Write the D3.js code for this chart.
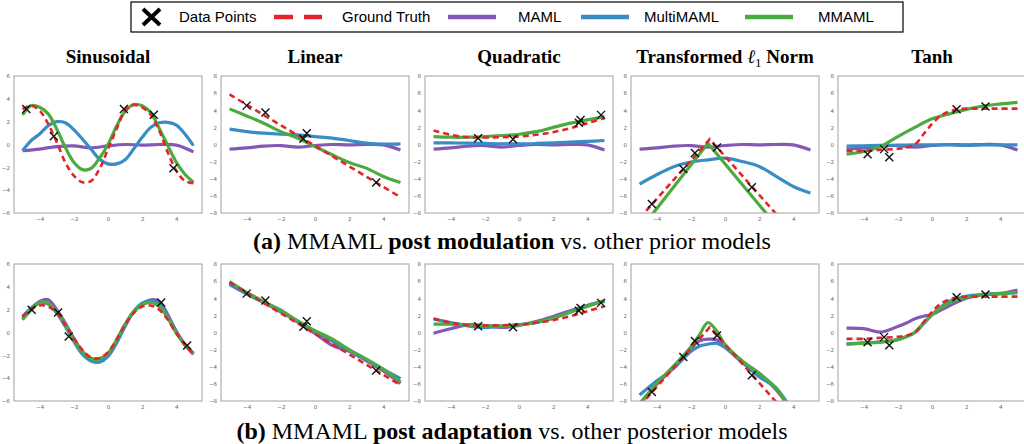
<!DOCTYPE html>
<html>
<head>
<meta charset="utf-8">
<script src="https://cdn.jsdelivr.net/npm/d3@7"></script>
<style>
  body { margin: 0; background: #fff; }
  svg { display: block; }
</style>
</head>
<body>
<svg id="chart" width="1024" height="444"></svg>
<script>
// sample grids
var xHalf = [-5,-4.5,-4,-3.5,-3,-2.5,-2,-1.5,-1,-0.5,0,0.5,1,1.5,2,2.5,3,3.5,4,4.5,5];
var xInt = [-5,-4,-3,-2,-1,0,1,2,3,4,5];

var titles = ["Sinusoidal", "Linear", "Quadratic", "Transformed", "Tanh"];
var legendLabels = ["Data Points", "Ground Truth", "MAML", "MultiMAML", "MMAML"];

// data points (same tasks in both rows, except sinusoid)
var sinPtsAx = [-4.78,-3.17,0.93,2.68,3.83], sinPtsAy = [3.11,0.72,3.11,2.61,-2.09];
var sinPtsBx = [-4.47,-2.92,-2.3,3.11,4.63], sinPtsBy = [1.99,1.75,-0.35,2.63,-1.14];
var linPtsx = [-4.0,-2.9,-0.68,-0.48,3.58], linPtsy = [4.54,3.73,0.66,1.32,-4.43];
var quadPtsx = [-2.39,-0.35,3.5,3.6,4.8], quadPtsy = [0.74,0.62,2.55,2.85,3.46];
var l1Ptsx = [-4.28,-2.44,-1.76,-0.47,1.57], l1Ptsy = [-6.95,-2.87,-1.0,-0.35,-5.0];
var tanhPtsx = [-3.77,-2.8,-2.5,1.44,3.13], tanhPtsy = [-1.13,-0.54,-1.48,4.12,4.43];

// ground truth
var sinGTa = [3.1,3.4,2.97,1.8,0.2,-1.56,-2.73,-3.3,-3.2,-2.15,-0.4,1.36,2.97,3.46,3.26,2.6,1.2,-0.7,-2.3,-3.2,-3.4];
var sinGTb = [1.4,2.05,2.37,2.28,1.7,0.67,-0.5,-1.52,-2.19,-2.25,-1.73,-0.64,0.67,1.7,2.28,2.37,1.99,1.11,-0.06,-1.08,-1.9];
var linGT = [5.85,4.65,3.45,2.25,1.05,-0.15,-1.35,-2.55,-3.75,-4.95,-6.15];
var quadGT = [1.63,1.13,0.85,0.82,0.85,0.93,1.13,1.44,1.9,2.49,3.07];
var l1GTx = [-5,-0.89,5], l1GTy = [-8.63,0.62,-12.63];
var tanhX = [-5,-4,-3,-2,-1.5,-1,-0.5,0,0.5,1,1.5,2,3,4,5];
var tanhGT = [-0.74,-0.74,-0.62,-0.5,-0.35,0.0,1.2,2.4,3.35,3.85,4.1,4.19,4.19,4.19,4.19];

// (a) prior models
var mamlPrior = [-0.55,-0.4,-0.18,-0.12,-0.3,-0.12,0.0,-0.05,0.0,-0.05,-0.65];
var sinMultiA = [-0.55,0.34,0.92,1.65,2.0,1.9,1.3,0.48,-0.4,-1.27,-1.7,-1.7,-1.33,-0.4,0.63,1.5,1.9,1.94,1.7,0.92,-0.1];
var sinMmamlA = [2.6,3.4,3.26,2.68,1.36,-0.25,-1.56,-2.2,-2.1,-1.2,0.0,1.6,2.9,3.5,3.4,2.8,1.4,-0.1,-1.56,-2.6,-3.3];
var linMultiA = [1.79,1.5,1.32,1.2,1.13,0.93,0.74,0.47,0.16,0.04,0.08];
var linMmamlA = [4.16,3.34,2.49,1.5,0.74,-0.23,-1.2,-2.1,-2.76,-3.73,-4.43];
var quadMultiA = [0.2,0.18,0.16,0.12,0.08,0.08,0.12,0.18,0.27,0.36,0.47];
var quadMmamlA = [0.93,0.85,0.85,0.93,1.05,1.2,1.5,2.0,2.49,2.87,3.26];
var l1MultiA = [-4.62,-3.53,-2.6,-2.05,-1.79,-1.59,-1.98,-2.56,-3.73,-4.9,-5.67];
var l1MmamlAx = [-5,-1.0,5], l1MmamlAy = [-10.05,0.15,-14.25];
var tanhMultiA = [-0.2,-0.15,-0.1,-0.08,-0.05,-0.05,-0.05,-0.1,-0.05,-0.05,-0.05];
var tanhMmamlA = [-1.13,-0.82,-0.23,0.93,2.0,3.0,3.57,4.1,4.5,4.74,4.93];

// (b) posterior models
var sinMamlB = [1.25,2.1,2.72,2.87,1.99,0.82,-0.5,-1.67,-2.25,-2.31,-1.96,-0.79,0.67,1.78,2.49,2.87,2.72,1.55,0.09,-1.02,-1.9];
var sinMultiB = [1.4,2.13,2.57,2.49,1.7,0.53,-0.79,-1.9,-2.49,-2.6,-2.1,-0.94,0.53,1.84,2.57,2.8,2.43,1.4,0.09,-1.08,-1.9];
var sinMmamlB = [1.11,1.99,2.63,2.57,1.84,0.67,-0.64,-1.67,-2.31,-2.31,-1.81,-0.64,0.73,1.84,2.43,2.63,2.28,1.26,-0.06,-1.08,-1.81];
var linMamlB = [5.7,4.6,3.55,2.6,1.2,-0.1,-1.5,-2.2,-3.3,-4.5,-5.95];
var linMultiB = [5.6,4.5,3.5,2.4,1.25,0.1,-1.0,-2.1,-3.2,-4.3,-5.4];
var linMmamlB = [5.95,4.7,3.6,2.55,1.35,0.2,-0.75,-2.0,-3.1,-4.3,-5.75];
var quadMamlB = [-0.08,0.43,0.9,0.82,0.59,0.82,1.29,1.88,2.54,3.16,3.63];
var quadMultiB = [1.56,1.17,0.78,0.59,0.7,0.9,1.17,1.68,2.46,3.16,3.71];
var quadMmamlB = [0.98,0.98,0.9,0.78,0.78,0.9,1.17,1.68,2.38,3.05,3.71];
var l1BX = [-5,-4,-3,-2,-1.5,-1,-0.5,0,1,2,3,4,5];
var l1MamlB = [-8.4,-6.05,-4.1,-1.84,-0.98,-0.78,-0.86,-1.64,-3.4,-4.77,-6.72,-9.3,-11.5];
var l1MultiB = [-7.3,-5.66,-4.18,-2.23,-1.6,-1.37,-1.25,-1.76,-3.48,-5.16,-6.52,-9.2,-11.5];
var l1MmamlB = [-8.3,-6.0,-3.9,-1.7,-0.3,1.17,0.2,-1.4,-3.3,-4.8,-6.5,-9.5,-12];
var tanhBX = [-5,-4,-3,-2,-1.5,-1,-0.5,0,0.5,1,2,3,4,5];
var tanhMamlB = [0.51,0.45,0.05,0.7,1.1,1.6,1.9,2.1,2.6,3.1,4.0,4.4,4.55,4.95];
var tanhMultiB = [-1.33,-1.22,-1.1,-0.82,-0.5,0.0,1.0,2.1,2.95,3.63,4.22,4.45,4.57,4.64];
var tanhMmamlB = [-1.37,-1.25,-1.13,-0.86,-0.47,0.04,1.09,2.07,2.85,3.44,4.1,4.41,4.53,4.69];

var colors = { gt: "#e3242b", maml: "#8558b6", multi: "#3a8cc5", mmaml: "#4bab3e" };

function zip(xs, ys) { return xs.map(function (x, i) { return [x, ys[i]]; }); }

// panel table built from the arrays
var rows = [
  [
    { ylim: 6, gt: zip(xHalf, sinGTa), maml: zip(xInt, mamlPrior), multi: zip(xHalf, sinMultiA), mmaml: zip(xHalf, sinMmamlA), pts: zip(sinPtsAx, sinPtsAy) },
    { ylim: 8, gt: zip(xInt, linGT), maml: zip(xInt, mamlPrior), multi: zip(xInt, linMultiA), mmaml: zip(xInt, linMmamlA), pts: zip(linPtsx, linPtsy) },
    { ylim: 8, gt: zip(xInt, quadGT), maml: zip(xInt, mamlPrior), multi: zip(xInt, quadMultiA), mmaml: zip(xInt, quadMmamlA), pts: zip(quadPtsx, quadPtsy) },
    { ylim: 8, gt: zip(l1GTx, l1GTy), maml: zip(xInt, mamlPrior), multi: zip(xInt, l1MultiA), mmaml: zip(l1MmamlAx, l1MmamlAy), pts: zip(l1Ptsx, l1Ptsy), sharp: true },
    { ylim: 8, gt: zip(tanhX, tanhGT), maml: zip(xInt, mamlPrior), multi: zip(xInt, tanhMultiA), mmaml: zip(xInt, tanhMmamlA), pts: zip(tanhPtsx, tanhPtsy) }
  ],
  [
    { ylim: 6, gt: zip(xHalf, sinGTb), maml: zip(xHalf, sinMamlB), multi: zip(xHalf, sinMultiB), mmaml: zip(xHalf, sinMmamlB), pts: zip(sinPtsBx, sinPtsBy) },
    { ylim: 8, gt: zip(xInt, linGT), maml: zip(xInt, linMamlB), multi: zip(xInt, linMultiB), mmaml: zip(xInt, linMmamlB), pts: zip(linPtsx, linPtsy) },
    { ylim: 8, gt: zip(xInt, quadGT), maml: zip(xInt, quadMamlB), multi: zip(xInt, quadMultiB), mmaml: zip(xInt, quadMmamlB), pts: zip(quadPtsx, quadPtsy) },
    { ylim: 8, gt: zip(l1GTx, l1GTy), maml: zip(l1BX, l1MamlB), multi: zip(l1BX, l1MultiB), mmaml: zip(l1BX, l1MmamlB), pts: zip(l1Ptsx, l1Ptsy) },
    { ylim: 8, gt: zip(tanhX, tanhGT), maml: zip(tanhBX, tanhMamlB), multi: zip(tanhBX, tanhMultiB), mmaml: zip(tanhBX, tanhMmamlB), pts: zip(tanhPtsx, tanhPtsy) }
  ]
];

var svg = d3.select("#chart");
var lefts = [14, 221, 425, 631, 838];
var tops = [76, 264];
var pw = 188, ph = 137;

rows.forEach(function (row, r) {
  row.forEach(function (p, c) {
    var g = svg.append("g").attr("transform", "translate(" + lefts[c] + "," + tops[r] + ")");
    var x = d3.scaleLinear().domain([-5.5, 5.5]).range([0, pw]);
    var y = d3.scaleLinear().domain([-p.ylim, p.ylim]).range([ph, 0]);

    var clipId = "clip" + r + c;
    g.append("clipPath").attr("id", clipId)
      .append("rect").attr("width", pw).attr("height", ph);

    var xAxis = g.append("g").attr("transform", "translate(0," + ph + ")")
      .call(d3.axisBottom(x).tickValues([-4, -2, 0, 2, 4]).tickSize(0).tickPadding(4));
    var yAxis = g.append("g")
      .call(d3.axisLeft(y).tickValues(d3.range(-p.ylim, p.ylim + 1, 2)).tickSize(0).tickPadding(4));
    [xAxis, yAxis].forEach(function (a) {
      a.select(".domain").remove();
      a.selectAll("text").attr("fill", "#666").style("font-size", "5.5px").style("font-family", "DejaVu Sans");
    });

    var plot = g.append("g").attr("clip-path", "url(#" + clipId + ")");
    var smooth = d3.line().x(function (d) { return x(d[0]); }).y(function (d) { return y(d[1]); }).curve(d3.curveCatmullRom.alpha(0.5));
    var straight = d3.line().x(function (d) { return x(d[0]); }).y(function (d) { return y(d[1]); });

    plot.append("path").attr("d", smooth(p.maml)).attr("fill", "none")
      .attr("stroke", colors.maml).attr("stroke-width", 3.2);
    plot.append("path").attr("d", smooth(p.multi)).attr("fill", "none")
      .attr("stroke", colors.multi).attr("stroke-width", 3.2);
    plot.append("path").attr("d", (p.sharp ? straight : smooth)(p.mmaml)).attr("fill", "none")
      .attr("stroke", colors.mmaml).attr("stroke-width", 3.2);
    plot.append("path").attr("d", (c === 3 ? straight : smooth)(p.gt)).attr("fill", "none")
      .attr("stroke", colors.gt).attr("stroke-width", 2.6).attr("stroke-dasharray", "6,4");

    var s = 4;
    plot.selectAll(".pt").data(p.pts).enter().append("path")
      .attr("d", function (d) {
        var cx = x(d[0]), cy = y(d[1]);
        return "M" + (cx - s) + "," + (cy - s) + "L" + (cx + s) + "," + (cy + s) +
               "M" + (cx - s) + "," + (cy + s) + "L" + (cx + s) + "," + (cy - s);
      })
      .attr("stroke", "#111").attr("stroke-width", 1.4);

    g.append("rect").attr("width", pw).attr("height", ph)
      .attr("fill", "none").attr("stroke", "#a0a0a0").attr("stroke-width", 1);

    if (r === 0) {
      var t = g.append("text").attr("x", pw / 2).attr("y", -13).attr("text-anchor", "middle")
        .style("font-family", "Liberation Serif").style("font-weight", "bold").style("font-size", "19px")
        .text(titles[c]);
      if (c === 3) {
        t.append("tspan").text(" \u2113").style("font-style", "italic").style("font-weight", "normal");
        t.append("tspan").text("1").attr("dy", 4).style("font-size", "13px").style("font-weight", "normal");
        t.append("tspan").text(" Norm").attr("dy", -4);
      }
    }
  });
});

// captions
function caption(yPos, parts) {
  var t = svg.append("text").attr("x", 512).attr("y", yPos).attr("text-anchor", "middle")
    .style("font-family", "Liberation Serif").style("font-size", "24px");
  parts.forEach(function (pt) {
    t.append("tspan").text(pt[0]).style("font-weight", pt[1] ? "bold" : "normal");
  });
}
caption(249, [["(a)", true], [" MMAML ", false], ["post modulation", true], [" vs. other prior models", false]]);
caption(439, [["(b)", true], [" MMAML ", false], ["post adaptation", true], [" vs. other posterior models", false]]);

// legend
var lg = svg.append("g");
lg.append("rect").attr("x", 131).attr("y", 2).attr("width", 772).attr("height", 30)
  .attr("fill", "#fff").attr("stroke", "#000").attr("stroke-width", 1.2);
var sampleX = [143, 274, 448, 581, 745];
var textX = [179, 342, 518, 644, 818];
var sampleColors = ["#000", colors.gt, colors.maml, colors.multi, colors.mmaml];
legendLabels.forEach(function (lab, i) {
  if (i === 0) {
    lg.append("path").attr("d", "M143,9L160,25M143,25L160,9").attr("stroke", "#000").attr("stroke-width", 4);
  } else {
    var ln = lg.append("line").attr("x1", sampleX[i]).attr("x2", sampleX[i] + 48)
      .attr("y1", 17).attr("y2", 17).attr("stroke", sampleColors[i]).attr("stroke-width", 4.5);
    if (i === 1) ln.attr("stroke-dasharray", "19,11");
  }
  lg.append("text").attr("x", textX[i]).attr("y", 22).text(lab)
    .style("font-family", "Liberation Sans").style("font-size", "15px");
});
</script>
</body>
</html>
